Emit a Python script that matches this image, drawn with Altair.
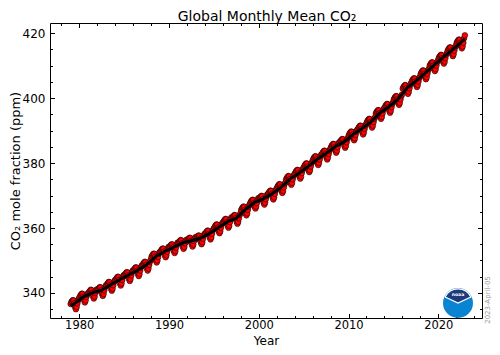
import altair as alt
import pandas as pd

years = list(range(1979, 2023))

monthly = [
    [336.6, 337.2, 337.5, 337.8, 337.7, 336.8, 335.6, 335.0, 335.7, 336.8, 337.8, 338.3],
    [338.7, 339.2, 339.5, 339.8, 339.7, 338.8, 337.7, 337.1, 337.7, 338.8, 339.5, 339.9],
    [339.9, 340.4, 340.7, 341.0, 340.9, 340.0, 338.9, 338.3, 338.9, 340.0, 340.8, 341.1],
    [340.7, 341.2, 341.5, 341.8, 341.7, 340.8, 339.7, 339.1, 339.7, 340.8, 341.8, 342.3],
    [342.3, 342.8, 343.1, 343.4, 343.3, 342.4, 341.3, 340.7, 341.3, 342.4, 343.4, 343.9],
    [343.9, 344.4, 344.7, 345.0, 344.9, 344.0, 342.9, 342.3, 342.9, 344.0, 345.0, 345.5],
    [345.3, 345.8, 346.1, 346.4, 346.3, 345.4, 344.3, 343.7, 344.3, 345.4, 346.4, 346.9],
    [346.8, 347.3, 347.6, 347.9, 347.8, 346.9, 345.8, 345.2, 345.8, 346.9, 347.9, 348.4],
    [348.5, 349.0, 349.3, 349.6, 349.5, 348.6, 347.5, 346.9, 347.5, 348.6, 349.6, 350.1],
    [351.0, 351.5, 351.8, 352.1, 352.0, 351.1, 350.0, 349.4, 350.0, 351.1, 352.1, 352.6],
    [352.6, 353.1, 353.4, 353.7, 353.6, 352.7, 351.6, 351.0, 351.6, 352.7, 353.7, 354.2],
    [353.9, 354.4, 354.7, 355.0, 354.9, 354.0, 352.9, 352.3, 352.9, 354.0, 355.0, 355.5],
    [355.2, 355.7, 356.0, 356.3, 356.2, 355.3, 354.2, 353.6, 354.2, 355.3, 356.1, 356.4],
    [355.9, 356.4, 356.7, 357.0, 356.9, 356.0, 354.9, 354.3, 354.9, 356.0, 356.8, 357.2],
    [356.6, 357.1, 357.4, 357.7, 357.6, 356.7, 355.6, 355.0, 355.6, 356.7, 357.7, 358.2],
    [358.1, 358.6, 358.9, 359.2, 359.1, 358.2, 357.1, 356.5, 357.1, 358.2, 359.2, 359.7],
    [360.0, 360.5, 360.8, 361.1, 361.0, 360.1, 359.0, 358.4, 359.0, 360.1, 361.1, 361.6],
    [361.7, 362.2, 362.5, 362.8, 362.7, 361.8, 360.7, 360.1, 360.7, 361.8, 362.8, 363.3],
    [362.9, 363.4, 363.7, 364.0, 363.9, 363.0, 361.9, 361.3, 361.9, 363.0, 364.0, 364.5],
    [365.5, 366.0, 366.3, 366.6, 366.5, 365.6, 364.5, 363.9, 364.5, 365.6, 366.6, 367.1],
    [367.6, 368.1, 368.4, 368.7, 368.6, 367.7, 366.6, 366.0, 366.6, 367.7, 368.7, 369.2],
    [368.8, 369.3, 369.6, 369.9, 369.8, 368.9, 367.8, 367.2, 367.8, 368.9, 369.9, 370.4],
    [370.4, 370.9, 371.2, 371.5, 371.4, 370.5, 369.4, 368.8, 369.4, 370.5, 371.5, 372.0],
    [372.4, 372.9, 373.2, 373.5, 373.4, 372.5, 371.4, 370.8, 371.4, 372.5, 373.5, 374.0],
    [374.9, 375.4, 375.7, 376.0, 375.9, 375.0, 373.9, 373.3, 373.9, 375.0, 376.0, 376.5],
    [376.8, 377.3, 377.6, 377.9, 377.8, 376.9, 375.8, 375.2, 375.8, 376.9, 377.9, 378.4],
    [378.8, 379.3, 379.6, 379.9, 379.8, 378.9, 377.8, 377.2, 377.8, 378.9, 379.9, 380.4],
    [381.0, 381.5, 381.8, 382.1, 382.0, 381.1, 380.0, 379.4, 380.0, 381.1, 382.1, 382.6],
    [382.7, 383.2, 383.5, 383.8, 383.7, 382.8, 381.7, 381.1, 381.7, 382.8, 383.8, 384.3],
    [384.8, 385.3, 385.6, 385.9, 385.8, 384.9, 383.8, 383.2, 383.8, 384.9, 385.9, 386.4],
    [386.3, 386.8, 387.1, 387.4, 387.3, 386.4, 385.3, 384.7, 385.3, 386.4, 387.4, 387.9],
    [388.6, 389.1, 389.4, 389.7, 389.6, 388.7, 387.6, 387.0, 387.6, 388.7, 389.7, 390.2],
    [390.4, 390.9, 391.2, 391.5, 391.4, 390.5, 389.4, 388.8, 389.4, 390.5, 391.5, 392.0],
    [392.5, 393.0, 393.3, 393.6, 393.5, 392.6, 391.5, 390.9, 391.5, 392.6, 393.6, 394.1],
    [395.2, 395.7, 396.0, 396.3, 396.2, 395.3, 394.2, 393.6, 394.2, 395.3, 396.3, 396.8],
    [397.1, 397.6, 397.9, 398.2, 398.1, 397.2, 396.1, 395.5, 396.1, 397.2, 398.2, 398.7],
    [399.5, 400.0, 400.3, 400.6, 400.5, 399.6, 398.5, 397.9, 398.5, 399.6, 400.6, 401.1],
    [402.9, 403.4, 403.7, 404.0, 403.9, 403.0, 401.9, 401.3, 401.9, 403.0, 404.0, 404.5],
    [405.0, 405.5, 405.8, 406.1, 406.0, 405.1, 404.0, 403.4, 404.0, 405.1, 406.1, 406.6],
    [407.4, 407.9, 408.2, 408.5, 408.4, 407.5, 406.4, 405.8, 406.4, 407.5, 408.5, 409.0],
    [409.9, 410.4, 410.7, 411.0, 410.9, 410.0, 408.9, 408.3, 408.9, 410.0, 411.0, 411.5],
    [412.2, 412.7, 413.0, 413.3, 413.2, 412.3, 411.2, 410.6, 411.2, 412.3, 413.3, 413.8],
    [414.5, 415.0, 415.3, 415.6, 415.5, 414.6, 413.5, 412.9, 413.5, 414.6, 415.6, 416.1],
    [416.9, 417.4, 417.7, 418.0, 417.9, 417.0, 415.9, 415.3, 415.9, 417.0, 418.4, 419.3],
]

trend_years = [1979.04, 1979.5, 1980.5, 1981.5, 1982.5, 1983.5, 1984.5, 1985.5, 1986.5,
               1987.5, 1988.5, 1989.5, 1990.5, 1991.5, 1992.5, 1993.5, 1994.5, 1995.5,
               1996.5, 1997.5, 1998.5, 1999.5, 2000.5, 2001.5, 2002.5, 2003.5, 2004.5,
               2005.5, 2006.5, 2007.5, 2008.5, 2009.5, 2010.5, 2011.5, 2012.5, 2013.5,
               2014.5, 2015.5, 2016.5, 2017.5, 2018.5, 2019.5, 2020.5, 2021.5, 2022.5,
               2022.96]
trend_values = [336.0, 336.85, 338.91, 340.11, 340.86, 342.53, 344.07, 345.54, 346.97,
                348.68, 351.16, 352.78, 354.05, 355.39, 356.09, 356.83, 358.33, 360.17,
                361.93, 363.05, 365.70, 367.80, 368.96, 370.57, 372.58, 375.14, 376.95,
                378.98, 381.15, 382.90, 385.02, 386.50, 388.76, 390.63, 392.65, 395.40,
                397.34, 399.65, 403.07, 405.22, 407.61, 410.07, 412.44, 414.70, 417.07,
                418.2]

x_major = [1980, 1990, 2000, 2010, 2020]
x_minor = [1978, 1982, 1984, 1986, 1988, 1992, 1994, 1996, 1998, 2002, 2004, 2006,
           2008, 2012, 2014, 2016, 2018, 2022, 2024]
y_major = [340, 360, 380, 400, 420]
y_minor = [335, 345, 350, 355, 365, 370, 375, 385, 390, 395, 405, 410, 415]

TITLE = "Global Monthly Mean CO₂"
XTITLE = "Year"
YTITLE = "CO₂ mole fraction (ppm)"
STAMP = "2023-April-05"

rows = []
for yi, yr in enumerate(years):
    for m, v in enumerate(monthly[yi]):
        rows.append({"t": yr + (m + 0.5) / 12.0, "v": v})
pts = pd.DataFrame(rows)
trend = pd.DataFrame({"t": trend_years, "v": trend_values})

W, H = 432, 295
xs = alt.Scale(domain=[1976.74, 2024.87], nice=False, zero=False)
ys = alt.Scale(domain=[332.3, 423.1], nice=False, zero=False)

MAJ = 4.5
MIN = 2.5


def axis(orient, values, size, labels=False, **kw):
    args = dict(orient=orient, values=values, tickSize=size, offset=-size,
                domain=False, grid=False, labels=labels, tickColor="black",
                tickWidth=1)
    args.update(kw)
    return alt.Axis(**args)


ax_bottom = axis("bottom", x_major, MAJ, labels=True, title=XTITLE, format="d",
                 labelPadding=1.5, labelFontSize=11.5, labelColor="black",
                 titleFontSize=12, titleFontWeight="normal", titleColor="black",
                 titleX=W / 2, titleY=31, titleBaseline="alphabetic",
                 titleAlign="center")
ax_left = axis("left", y_major, MAJ, labels=True, title=YTITLE, format="d",
               labelPadding=5, labelFontSize=12, labelColor="black",
               titleFontSize=13, titleFontWeight="normal", titleColor="black",
               titleX=-39.5, titleY=H / 2, titleBaseline="middle",
               titleAlign="center", titleAngle=270)

points = alt.Chart(pts).mark_circle(
    fill="red", stroke="black", strokeWidth=0.55, size=32, opacity=1
).encode(
    x=alt.X("t:Q", scale=xs, axis=ax_bottom),
    y=alt.Y("v:Q", scale=ys, axis=ax_left),
)

line = alt.Chart(trend).mark_line(color="black", strokeWidth=3).encode(
    x=alt.X("t:Q", scale=xs, axis=axis("top", x_major, MAJ), title=None),
    y=alt.Y("v:Q", scale=ys, axis=axis("right", y_major, MAJ), title=None),
)

minor1 = alt.Chart(trend).mark_point(opacity=0).encode(
    x=alt.X("t:Q", scale=xs, axis=axis("bottom", x_minor, MIN), title=None),
    y=alt.Y("v:Q", scale=ys, axis=axis("left", y_minor, MIN), title=None),
)
minor2 = alt.Chart(trend).mark_point(opacity=0).encode(
    x=alt.X("t:Q", scale=xs, axis=axis("top", x_minor, MIN), title=None),
    y=alt.Y("v:Q", scale=ys, axis=axis("right", y_minor, MIN), title=None),
)

one = pd.DataFrame({"a": [0]})
LX, LY = 408, 280
logo_circle = alt.Chart(one).mark_arc(
    radius=15, theta=0, theta2=6.2832, fill="#0a84d0"
).encode(x=alt.value(LX), y=alt.value(LY))
logo_top = alt.Chart(one).mark_arc(
    radius=14.2, theta=5.15, theta2=7.42, fill="#1f3a7a", stroke="white", strokeWidth=1.3
).encode(x=alt.value(LX), y=alt.value(LY))
logo_text = alt.Chart(one).mark_text(
    text="noaa", fontSize=4.5, fontWeight="bold", color="white"
).encode(x=alt.value(LX), y=alt.value(LY - 8))

title_text = alt.Chart(one).mark_text(
    text=TITLE, fontSize=14, color="black", baseline="alphabetic", align="center"
).encode(x=alt.value(217), y=alt.value(-2.5))

date_text = alt.Chart(one).mark_text(
    text=STAMP, angle=270, fontSize=7, color="#9a9a9a", baseline="middle"
).encode(x=alt.value(437.5), y=alt.value(277))

chart = alt.layer(
    points, line, minor1, minor2, logo_circle, logo_top, logo_text, title_text, date_text
).resolve_axis(
    x="independent", y="independent"
).properties(
    width=W, height=H,
    autosize=alt.AutoSizeParams(type="none"),
    padding={"left": 42, "top": 15, "right": 10, "bottom": 29},
).configure(
    font="DejaVu Sans"
).configure_view(
    stroke="black", strokeWidth=1
)

chart.save("out.html", embed_options={"renderer": "svg", "actions": False})
